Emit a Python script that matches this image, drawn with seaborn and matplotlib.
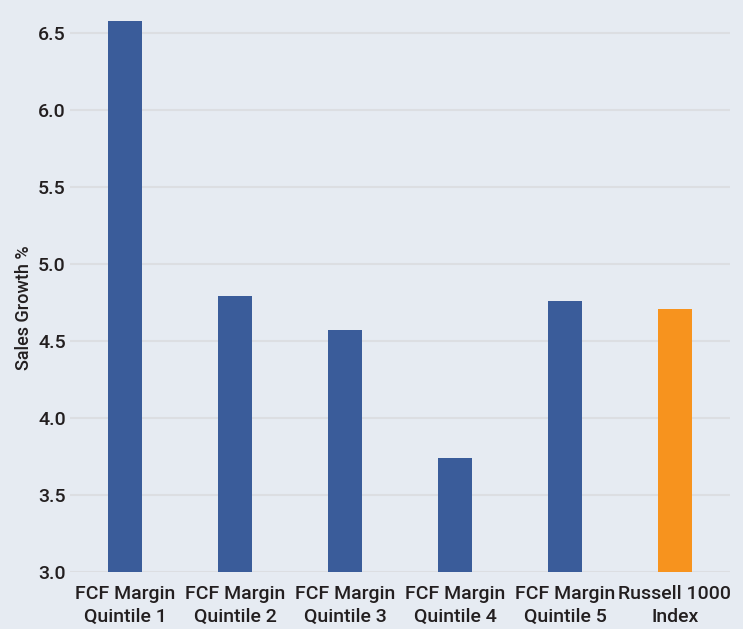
import matplotlib
matplotlib.use("Agg")
import matplotlib.pyplot as plt
import seaborn as sns
import pandas as pd

# values
categories = ["FCF Margin\nQuintile 1", "FCF Margin\nQuintile 2", "FCF Margin\nQuintile 3",
              "FCF Margin\nQuintile 4", "FCF Margin\nQuintile 5", "Russell 1000\nIndex"]
sales_growth = [6.58, 4.79, 4.57, 3.74, 4.76, 4.71]
bar_colors = ["#3a5c9a", "#3a5c9a", "#3a5c9a", "#3a5c9a", "#3a5c9a", "#f7931e"]
y_ticks = [3.0, 3.5, 4.0, 4.5, 5.0, 5.5, 6.0, 6.5]

df = pd.DataFrame({"category": categories, "growth": sales_growth})

bg = "#e6ebf2"
sns.set_style("whitegrid")
plt.rcParams["font.family"] = ["Roboto", "DejaVu Sans"]

fig = plt.figure(figsize=(7.43, 6.29), dpi=100, facecolor=bg)
ax = fig.add_axes([0.0942, 0.0906, 0.8883, 0.8934])
ax.set_facecolor(bg)

sns.barplot(data=df, x="category", y="growth", hue="category",
            palette=bar_colors, legend=False, width=0.31,
            saturation=1, ax=ax, linewidth=0)

ax.set_ylim(3.0, 6.65)
ax.set_xlim(-0.5, 5.5)
ax.set_yticks(y_ticks)
ax.set_yticklabels([f"{t:.1f}" for t in y_ticks], fontweight="medium")
ax.set_xticks(range(len(categories)))
ax.set_xticklabels(categories, fontweight="medium", linespacing=1.4)
ax.grid(axis="y", color="#dcdee2", linewidth=1.5)
ax.grid(axis="x", visible=False)
ax.set_axisbelow(True)
for s in ax.spines.values():
    s.set_visible(False)
ax.tick_params(axis="both", length=0, labelsize=14, labelcolor="#231f20")
ax.tick_params(axis="y", pad=3)
ax.tick_params(axis="x", pad=9)
ax.set_xlabel("")
ax.set_ylabel("Sales Growth %", fontsize=13, fontweight="medium", color="#231f20")
ax.yaxis.set_label_coords(-0.056, 0.47)

fig.savefig("out.png", dpi=100, facecolor=bg)
